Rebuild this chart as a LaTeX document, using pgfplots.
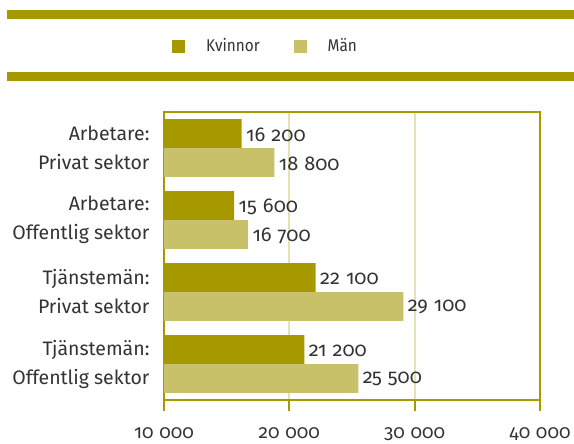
\documentclass[border=0pt]{standalone}
\usepackage{pgfplots}
\pgfplotsset{compat=1.18}
\usepackage{fontspec}
\setmainfont{Fira Sans}[Numbers=OldStyle]
\usepackage{graphicx}
\definecolor{oliveD}{HTML}{A69900}
\definecolor{oliveL}{HTML}{C9C06A}
\definecolor{gridC}{HTML}{E6E1B4}
\definecolor{txt}{HTML}{333333}
\begin{document}
\begin{tikzpicture}
\path (-164pt,-39pt) rectangle (410pt,400pt);
\fill[oliveD] (-157pt,381pt) rectangle (410pt,390pt);
\fill[oliveD] (-157pt,319pt) rectangle (410pt,328pt);
\begin{axis}[
  scale only axis, width=376pt, height=288pt,
  xmin=10000, xmax=40000, ymin=0.5, ymax=4.5, y dir=reverse,
  xbar, bar width=0.4,
  axis line style={oliveD, line width=2pt},
  xtick={10000,20000,30000,40000},
  xtick pos=left, tick align=outside, major tick length=11pt,
  xtick style={oliveD, line width=2pt},
  ytick={1,2,3,4}, ytick style={draw=none},
  yticklabels={{Arbetare:\\Privat sektor},{Arbetare:\\Offentlig sektor},{Tjänstemän:\\Privat sektor},{Tjänstemän:\\Offentlig sektor}},
  yticklabel style={align=right, font=\fontsize{19.5}{29}\selectfont, text=txt, xshift=0pt},
  xticklabel style={font=\fontsize{19}{22}\selectfont, text=txt, yshift=-13pt},
  xmajorgrids, x grid style={gridC, line width=2pt},
  scaled x ticks=false,
  /pgf/number format/.cd, 1000 sep={\hspace{0.3em}}, assume math mode=true, /pgfplots/.cd,
  nodes near coords,
  every node near coord/.append style={font=\fontsize{20}{22}\selectfont, text=txt, xshift=1pt, yshift=-1pt},
  legend style={at={(0.27,1.229)}, anchor=center, draw=none, fill=none, legend columns=2,
    font=\fontsize{17}{20}\selectfont, text=txt,
    /tikz/column 1/.style={column sep=19pt},
    /tikz/column 2/.style={column sep=32pt},
    /tikz/column 3/.style={column sep=19pt}},
  sq/.style={legend image code/.code={\fill[##1] (0pt,-6.5pt) rectangle (13pt,6.5pt);}},
]
\addplot[fill=oliveD, draw=none, bar shift=-0.2, sq] coordinates {(16200,1) (15600,2) (22100,3) (21200,4)};
\addplot[fill=oliveL, draw=none, bar shift=0.2, sq] coordinates {(18800,1) (16700,2) (29100,3) (25500,4)};
\legend{\scalebox{0.9}[1]{Kvinnor},\scalebox{0.9}[1]{Män}}
\end{axis}
\end{tikzpicture}
\end{document}
